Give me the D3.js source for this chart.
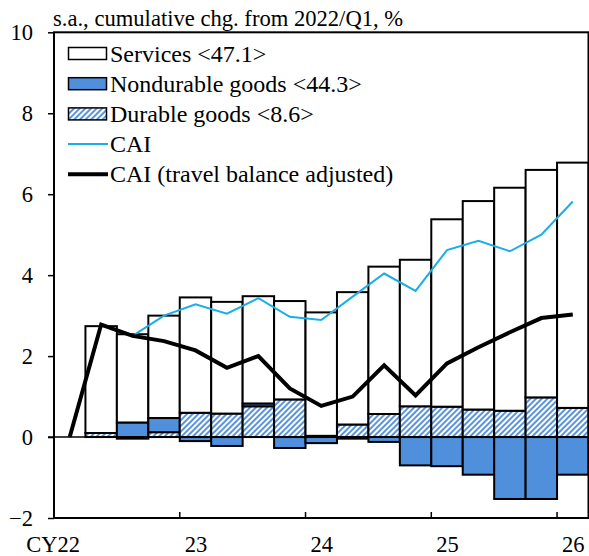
<!DOCTYPE html>
<html>
<head>
<meta charset="utf-8">
<script src="https://cdn.jsdelivr.net/npm/d3@7"></script>
<style>
  body { margin: 0; background: #fff; }
  svg text { font-family: "Liberation Serif", "Times New Roman", serif; fill: #000; }
</style>
</head>
<body>
<div id="chart"></div>
<script>
// quarters from 2022/Q1 to 2026/Q1
var quarters = ["22Q1","22Q2","22Q3","22Q4","23Q1","23Q2","23Q3","23Q4",
                "24Q1","24Q2","24Q3","24Q4","25Q1","25Q2","25Q3","25Q4","26Q1"];
var durable    = [0, 0.10, -0.04, 0.12, 0.60, 0.58, 0.76, 0.93, 0.03, 0.31, 0.57, 0.76, 0.75, 0.68, 0.65, 0.98, 0.72];
var nondurable = [0, 0.00,  0.36, 0.35, -0.10, -0.22, 0.07, -0.27, -0.15, -0.04, -0.12, -0.70, -0.72, -0.93, -1.53, -1.53, -0.93];
var services   = [0, 2.64,  2.18, 2.53, 2.85, 2.76, 2.65, 2.43, 3.05, 3.27, 3.64, 3.62, 4.63, 5.15, 5.51, 5.62, 6.06];
var cai        = [0, 2.78, 2.50, 3.00, 3.28, 3.05, 3.43, 2.97, 2.89, 3.47, 4.04, 3.61, 4.62, 4.85, 4.59, 5.00, 5.82];
var caiTravel  = [0, 2.78, 2.50, 2.37, 2.14, 1.71, 2.00, 1.20, 0.77, 1.00, 1.77, 1.03, 1.82, 2.22, 2.59, 2.94, 3.03];
var yTicks = [-2, 0, 2, 4, 6, 8, 10];
var yearLabels = ["23", "24", "25", "26"];
var legendItems = [
  {name: "Services <47.1>", kind: "services"},
  {name: "Nondurable goods <44.3>", kind: "nondurable"},
  {name: "Durable goods <8.6>", kind: "durable"},
  {name: "CAI", kind: "cai"},
  {name: "CAI (travel balance adjusted)", kind: "travel"}
];

var width = 589, height = 556;
var plotL = 54, plotR = 588.5, plotT = 32.3, plotB = 518;
var blue = "#4f8fdc", lightBlue = "#1aaee6";

var svg = d3.select("#chart").append("svg")
    .attr("width", width)
    .attr("height", height);

var defs = svg.append("defs");
var pat = defs.append("pattern")
    .attr("id", "hatch")
    .attr("patternUnits", "userSpaceOnUse")
    .attr("width", 4).attr("height", 4)
    .attr("patternTransform", "rotate(45)");
pat.append("rect").attr("width", 4).attr("height", 4).attr("fill", "#fff");
pat.append("rect").attr("width", 2).attr("height", 4).attr("fill", "#5b94de");

var x = d3.scaleBand().domain(quarters).range([plotL, plotR]).paddingInner(0).paddingOuter(0);
var y = d3.scaleLinear().domain([-2, 10]).range([plotB, plotT]);
var bw = x.bandwidth();

// build stacked segments: positives upward, negatives downward
var segs = [];
quarters.forEach(function(q, i) {
  if (i === 0) return;
  var pos = 0, neg = 0;
  [["durable", durable[i]], ["nondurable", nondurable[i]], ["services", services[i]]].forEach(function(s) {
    var v = s[1];
    if (v >= 0) { segs.push({q: q, kind: s[0], y0: pos, y1: pos + v}); pos += v; }
    else { segs.push({q: q, kind: s[0], y0: neg + v, y1: neg}); neg += v; }
  });
});

var fillOf = function(k) {
  return k === "services" ? "#fff" : k === "nondurable" ? blue : "url(#hatch)";
};

svg.append("g").selectAll("rect")
  .data(segs)
  .enter().append("rect")
    .attr("x", d => x(d.q))
    .attr("width", bw)
    .attr("y", d => y(d.y1))
    .attr("height", d => Math.max(0, y(d.y0) - y(d.y1)))
    .attr("fill", d => fillOf(d.kind))
    .attr("stroke", "#000")
    .attr("stroke-width", 2);

// zero line
svg.append("line")
  .attr("x1", plotL - 6).attr("x2", plotR)
  .attr("y1", y(0)).attr("y2", y(0))
  .attr("stroke", "#000").attr("stroke-width", 1.5);

// lines
var cx = function(i) { return x(quarters[i]) + bw / 2; };
var lineGen = d3.line().x((d, i) => cx(i)).y(d => y(d));

svg.append("path")
  .datum(cai)
  .attr("d", lineGen)
  .attr("fill", "none")
  .attr("stroke", lightBlue)
  .attr("stroke-width", 2);

svg.append("path")
  .datum(caiTravel)
  .attr("d", lineGen)
  .attr("fill", "none")
  .attr("stroke", "#000")
  .attr("stroke-width", 4)
  .attr("stroke-linejoin", "miter");

// frame
svg.append("rect")
  .attr("x", plotL).attr("y", plotT)
  .attr("width", plotR - plotL).attr("height", plotB - plotT)
  .attr("fill", "none").attr("stroke", "#000").attr("stroke-width", 2);

// y axis
var yAxis = d3.axisLeft(y).tickValues(yTicks).tickSize(6).tickPadding(15).tickFormat(d3.format("d"));
var gy = svg.append("g").attr("transform", "translate(" + plotL + ",0)").call(yAxis);
gy.select(".domain").remove();
gy.attr("font-family", null).attr("font-size", null);
gy.selectAll("line").attr("stroke", "#000").attr("stroke-width", 1.5);
gy.selectAll("text").attr("font-size", 22.5);

// x axis: ticks at year starts pointing up
var yearStarts = ["23Q1", "24Q1", "25Q1", "26Q1"];
var gx = svg.append("g");
gx.selectAll("line")
  .data(yearStarts)
  .enter().append("line")
    .attr("x1", d => x(d)).attr("x2", d => x(d))
    .attr("y1", plotB).attr("y2", plotB - 6)
    .attr("stroke", "#000").attr("stroke-width", 1.5);
gx.selectAll("text")
  .data(yearLabels)
  .enter().append("text")
    .attr("x", (d, i) => x(yearStarts[i]) + 5)
    .attr("y", 552)
    .attr("font-size", 22.5)
    .text(d => d);
gx.append("text").attr("x", 80).attr("y", 552).attr("font-size", 22.5)
  .attr("text-anchor", "end").text("CY22");

// title
svg.append("text")
  .attr("x", 53).attr("y", 26)
  .attr("font-size", 22.6)
  .text("s.a., cumulative chg. from 2022/Q1, %");

// legend
var lg = svg.append("g");
var rowY = function(i) { return 53.5 + i * 30.2; };
legendItems.forEach(function(it, i) {
  var cy = rowY(i);
  if (it.kind === "cai" || it.kind === "travel") {
    lg.append("line")
      .attr("x1", 68).attr("x2", 108).attr("y1", cy).attr("y2", cy)
      .attr("stroke", it.kind === "cai" ? lightBlue : "#000")
      .attr("stroke-width", it.kind === "cai" ? 2 : 4);
  } else {
    lg.append("rect")
      .attr("x", 68.5).attr("y", cy - 6).attr("width", 38).attr("height", 12)
      .attr("fill", fillOf(it.kind))
      .attr("stroke", "#000").attr("stroke-width", 1.5);
  }
  lg.append("text")
    .attr("x", 110).attr("y", cy + 8)
    .attr("font-size", 24)
    .text(it.name);
});
</script>
</body>
</html>
